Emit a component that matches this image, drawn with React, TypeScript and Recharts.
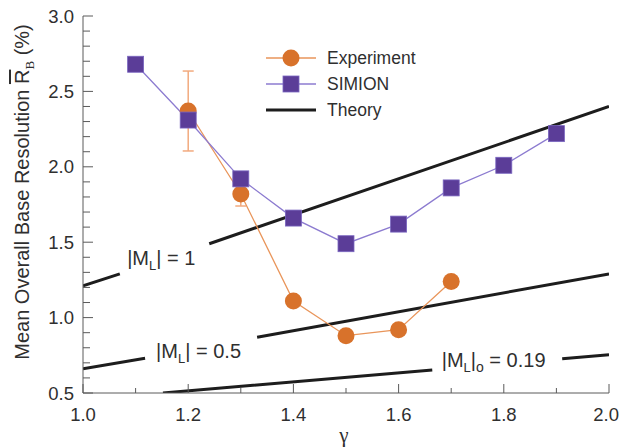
import {
  ComposedChart,
  ErrorBar,
  Legend,
  Line,
  ReferenceDot,
  XAxis,
  YAxis,
} from "recharts";

const FONT = "'Liberation Sans', Arial, Helvetica, sans-serif";
const SERIF = "'Liberation Serif', 'Times New Roman', serif";
const TEXT = "#2f2f2f";
const AXIS = "#5a5a5a";
const ORANGE = "#D8722B";
const ORANGE_LINE = "#E9955A";
const ORANGE_ERR = "#F2AA7E";
const PURPLE = "#5B3D98";
const PURPLE_LINE = "#8C7BD0";
const INK = "#1d1d1d";

// gamma values / measured resolution (%)
const EXP_X = [1.2, 1.3, 1.4, 1.5, 1.6, 1.7];
const EXP_Y = [2.37, 1.82, 1.11, 0.88, 0.92, 1.24];
const EXP_ERR = [0.265, 0.08, 0, 0, 0, 0];

const SIM_X = [1.1, 1.2, 1.3, 1.4, 1.5, 1.6, 1.7, 1.8, 1.9];
const SIM_Y = [2.68, 2.31, 1.92, 1.66, 1.49, 1.62, 1.86, 2.01, 2.22];

// theory lines, null = gap left for the label
const TH1_X = [1.0, 1.07, 1.155, 1.24, 2.0];
const TH1_Y = [1.21, 1.29, null, 1.49, 2.4];
const TH05_X = [1.0, 1.118, 1.22, 1.331, 2.0];
const TH05_Y = [0.66, 0.73, null, 0.87, 1.29];
const TH019_X = [1.152, 1.664, 1.79, 1.911, 2.0];
const TH019_Y = [0.5, 0.653, null, 0.727, 0.754];

const X_TICKS = [1.0, 1.1, 1.2, 1.3, 1.4, 1.5, 1.6, 1.7, 1.8, 1.9, 2.0];
const Y_TICKS = [
  0.5, 0.6, 0.7, 0.8, 0.9, 1.0, 1.1, 1.2, 1.3, 1.4, 1.5, 1.6, 1.7, 1.8, 1.9,
  2.0, 2.1, 2.2, 2.3, 2.4, 2.5, 2.6, 2.7, 2.8, 2.9, 3.0,
];

const LEGEND = [
  { name: "Experiment", color: ORANGE, line: ORANGE_LINE, marker: "circle" },
  { name: "SIMION", color: PURPLE, line: PURPLE_LINE, marker: "square" },
  { name: "Theory", color: INK, line: INK, marker: "none" },
];

const zip = (xs: number[], ys: (number | null)[], err?: number[]) =>
  xs.map((x, i) => ({ x, y: ys[i], err: err ? err[i] : 0 }));

const expData = zip(EXP_X, EXP_Y, EXP_ERR);
const simData = zip(SIM_X, SIM_Y);
const th1 = zip(TH1_X, TH1_Y);
const th05 = zip(TH05_X, TH05_Y);
const th019 = zip(TH019_X, TH019_Y);

const isMajorX = (v: number) => Math.round(v * 10) % 2 === 0;
const isMajorY = (v: number) => Math.round(v * 10) % 5 === 0;

function BottomTick(props: any) {
  const { x, y, payload } = props;
  const v = payload.value as number;
  const major = isMajorX(v);
  const last = v >= 2;
  return (
    <g>
      <line x1={x} x2={x} y1={y} y2={y - (major ? 9 : 5)} stroke={AXIS} />
      {major && (
        <text
          x={last ? x + 10 : x}
          y={y + 28}
          textAnchor={last ? "end" : "middle"}
          fontSize={18.5}
          fill={TEXT}
          fontFamily={FONT}
        >
          {v.toFixed(1)}
        </text>
      )}
    </g>
  );
}

function TopTick(props: any) {
  const { x, y, payload } = props;
  const major = isMajorX(payload.value);
  return <line x1={x} x2={x} y1={y} y2={y + (major ? 9 : 5)} stroke={AXIS} />;
}

function LeftTick(props: any) {
  const { x, y, payload } = props;
  const v = payload.value as number;
  const major = isMajorY(v);
  return (
    <g>
      <line x1={x} x2={x + (major ? 10 : 7)} y1={y} y2={y} stroke={AXIS} />
      {major && (
        <text x={x - 9} y={y + 6.5} textAnchor="end" fontSize={18.5} fill={TEXT} fontFamily={FONT}>
          {v.toFixed(1)}
        </text>
      )}
    </g>
  );
}

function RightTick(props: any) {
  const { x, y, payload } = props;
  const major = isMajorY(payload.value);
  return <line x1={x} x2={x - (major ? 10 : 7)} y1={y} y2={y} stroke={AXIS} />;
}

function SquareDot(props: any) {
  const { cx, cy, index } = props;
  return (
    <rect
      key={`sq-${index}`}
      x={cx - 8}
      y={cy - 8}
      width={16}
      height={16}
      fill={PURPLE}
      stroke="#7A66C0"
      strokeWidth={0.8}
    />
  );
}

const theoryLabel = (tail: string, outerSub?: string) => (props: any) => {
  const { x, y } = props.viewBox;
  return (
    <text x={x} y={y} fontSize={20} fill={TEXT} fontFamily={FONT}>
      |M
      <tspan fontSize={13} dy={5}>L</tspan>
      <tspan dy={-5}>|</tspan>
      {outerSub && (
        <tspan fontSize={14} dy={5}>
          {outerSub}
        </tspan>
      )}
      <tspan dy={outerSub ? -5 : 0}>{tail}</tspan>
    </text>
  );
};

function LegendBox() {
  return (
    <svg width={170} height={78} style={{ display: "block" }}>
      {LEGEND.map((item, i) => {
        const cy = 12 + i * 26;
        return (
          <g key={item.name}>
            <line
              x1={4}
              x2={54}
              y1={cy}
              y2={cy}
              stroke={item.line}
              strokeWidth={item.marker === "none" ? 3 : 1.3}
            />
            {item.marker === "circle" && <circle cx={29} cy={cy} r={8.5} fill={item.color} />}
            {item.marker === "square" && (
              <rect x={21} y={cy - 8} width={16} height={16} fill={item.color} stroke="#7A66C0" strokeWidth={0.8} />
            )}
            <text x={65} y={cy + 6} fontSize={17.5} fill={TEXT} fontFamily={FONT}>
              {item.name}
            </text>
          </g>
        );
      })}
    </svg>
  );
}

function YTitle() {
  return (
    <text
      x={0}
      y={0}
      transform="translate(29, 192) rotate(-90)"
      textAnchor="middle"
      fontSize={20}
      fill={TEXT}
      fontFamily={FONT}
    >
      Mean Overall Base Resolution{" "}
      <tspan style={{ textDecoration: "overline" }}>R</tspan>
      <tspan fontSize={13} dy={5} fontFamily={SERIF}>B</tspan>
      <tspan dy={-5}> (%)</tspan>
    </text>
  );
}

function XTitle() {
  return (
    <text x={344} y={442} textAnchor="middle" fontSize={21} fill={TEXT} fontFamily={SERIF}>
      γ
    </text>
  );
}

export default function App() {
  return (
    <div style={{ width: 620, height: 448, background: "#fff" }}>
      <style>{`body{margin:0}`}</style>
      <ComposedChart width={620} height={448} margin={{ top: 16, right: 11, bottom: 0, left: 0 }}>
        <XAxis
          xAxisId="b"
          dataKey="x"
          type="number"
          domain={[1, 2]}
          ticks={X_TICKS}
          interval={0}
          allowDataOverflow
          height={55}
          tickSize={0}
          tickMargin={0}
          tickLine={false}
          axisLine={{ stroke: AXIS }}
          tick={<BottomTick />}
          label={{ content: () => <XTitle /> }}
        />
        <XAxis
          xAxisId="t"
          orientation="top"
          dataKey="x"
          type="number"
          domain={[1, 2]}
          ticks={X_TICKS}
          interval={0}
          allowDataOverflow
          height={0}
          tickSize={0}
          tickMargin={0}
          tickLine={false}
          axisLine={{ stroke: AXIS }}
          tick={<TopTick />}
        />
        <YAxis
          yAxisId="l"
          type="number"
          domain={[0.5, 3]}
          ticks={Y_TICKS}
          interval={0}
          allowDataOverflow
          width={83}
          tickSize={0}
          tickMargin={0}
          tickLine={false}
          axisLine={{ stroke: AXIS }}
          tick={<LeftTick />}
          label={{ content: () => <YTitle /> }}
        />
        <YAxis
          yAxisId="r"
          orientation="right"
          type="number"
          domain={[0.5, 3]}
          ticks={Y_TICKS}
          interval={0}
          allowDataOverflow
          width={0}
          tickSize={0}
          tickMargin={0}
          tickLine={false}
          axisLine={{ stroke: AXIS }}
          tick={<RightTick />}
        />

        {[th1, th05, th019].map((d, i) => (
          <Line
            key={`th-${i}`}
            xAxisId="b"
            yAxisId="l"
            data={d}
            dataKey="y"
            stroke={INK}
            strokeWidth={3}
            dot={false}
            activeDot={false}
            connectNulls={false}
            isAnimationActive={false}
          />
        ))}

        <Line
          xAxisId="b"
          yAxisId="l"
          data={expData}
          dataKey="y"
          stroke={ORANGE_LINE}
          strokeWidth={1.3}
          dot={{ r: 8.5, fill: ORANGE, stroke: "none" }}
          activeDot={false}
          isAnimationActive={false}
        >
          <ErrorBar dataKey="err" width={5.5} stroke={ORANGE_ERR} strokeWidth={1.5} direction="y" />
        </Line>

        <Line
          xAxisId="b"
          yAxisId="l"
          data={simData}
          dataKey="y"
          stroke={PURPLE_LINE}
          strokeWidth={1.3}
          dot={<SquareDot />}
          activeDot={false}
          isAnimationActive={false}
        />

        <ReferenceDot xAxisId="b" yAxisId="l" x={1.084} y={1.349} r={0} fill="none" stroke="none" label={{ content: theoryLabel(" = 1") }} />
        <ReferenceDot xAxisId="b" yAxisId="l" x={1.139} y={0.732} r={0} fill="none" stroke="none" label={{ content: theoryLabel(" = 0.5") }} />
        <ReferenceDot xAxisId="b" yAxisId="l" x={1.682} y={0.672} r={0} fill="none" stroke="none" label={{ content: theoryLabel(" = 0.19", "o") }} />

        <Legend
          layout="vertical"
          align="center"
          verticalAlign="middle"
          wrapperStyle={{ left: 262, top: 46, width: 170 }}
          content={() => <LegendBox />}
        />
      </ComposedChart>
    </div>
  );
}
